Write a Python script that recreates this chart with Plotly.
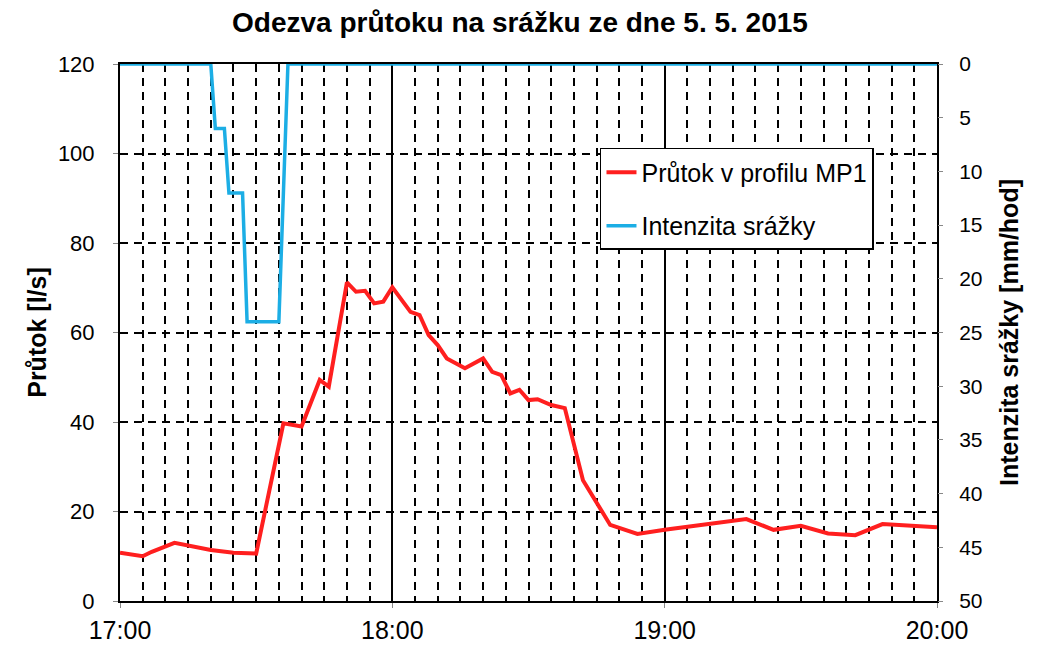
import plotly.graph_objects as go

DAY = "2015-05-05 "

# Průtok v profilu MP1 [l/s]
flow_time = ["17:00", "17:05", "17:07", "17:12", "17:20", "17:25", "17:30", "17:36", "17:40",
             "17:44", "17:46", "17:50", "17:52", "17:54", "17:56", "17:58", "18:00", "18:02",
             "18:04", "18:06", "18:08", "18:10", "18:12", "18:16", "18:18", "18:20", "18:22",
             "18:24", "18:26", "18:28", "18:30", "18:32", "18:35", "18:38", "18:42", "18:48",
             "18:54", "19:00", "19:18", "19:24", "19:30", "19:36", "19:42", "19:48", "20:00"]
flow_val = [10.8, 10.0, 11.0, 13.0, 11.4, 10.8, 10.6, 39.7, 39.0,
            49.4, 47.9, 71.2, 69.1, 69.3, 66.5, 66.9, 70.1, 67.3,
            64.6, 63.9, 59.4, 57.2, 54.2, 52.0, 53.1, 54.2, 51.2,
            50.5, 46.4, 47.2, 44.9, 45.1, 43.8, 43.1, 27.0, 17.0,
            15.0, 15.9, 18.3, 15.9, 16.8, 15.1, 14.7, 17.2, 16.5]

# Intenzita srážky [mm/hod]
rain_time = ["17:00", "17:20", "17:21", "17:23", "17:24", "17:27", "17:28", "17:35", "17:37", "20:00"]
rain_val = [0, 0, 6, 6, 12, 12, 24, 24, 0, 0]

title_text = "Odezva průtoku na srážku ze dne 5. 5. 2015"
flow_name = "Průtok v profilu MP1"
rain_name = "Intenzita srážky"
y_title = "Průtok [l/s]"
y2_title = "Intenzita srážky [mm/hod]"

FONT = "Liberation Sans, Arial, sans-serif"

fig = go.Figure()
fig.add_trace(go.Scatter(
    x=[DAY + t for t in flow_time], y=flow_val, name=flow_name, mode="lines",
    line=dict(color="#FF1F1F", width=4), legendgroup="a", yaxis="y"))
fig.add_trace(go.Scatter(
    x=[DAY + t for t in rain_time], y=rain_val, name=rain_name, mode="lines",
    line=dict(color="#1CAEE5", width=3.5), legendgroup="b", yaxis="y2"))

fig.update_layout(
    width=1050, height=646,
    margin=dict(l=112, r=121, t=56, b=53),
    paper_bgcolor="white", plot_bgcolor="white",
    font=dict(family=FONT, size=22, color="black"),
    title=dict(text="<b>" + title_text + "</b>", x=0.4876, xanchor="center", y=0.978, yanchor="middle",
               font=dict(family=FONT, size=28, color="black")),
    showlegend=True,
    legend=dict(x=0.5875, y=0.8436, xanchor="left", yanchor="top",
                bordercolor="black", borderwidth=1.5, bgcolor="white",
                font=dict(size=25), traceorder="grouped", tracegroupgap=18,
                itemwidth=30),
    xaxis=dict(
        type="date", automargin=False,
        range=[DAY + "17:00", DAY + "20:00"],
        tick0=DAY + "17:00", dtick=3600000, tickformat="%H:%M",
        showgrid=True, gridcolor="black", gridwidth=2,
        minor=dict(dtick=300000, tick0=DAY + "17:00", showgrid=True, gridcolor="black",
                   gridwidth=2, griddash="8px,6px"),
        showline=True, linecolor="black", linewidth=2, mirror=True,
        ticks="outside", ticklen=5, tickcolor="#888", tickwidth=1,
        ticklabelstandoff=1,
        zeroline=False, layer="below traces",
        tickfont=dict(size=25),
    ),
    yaxis=dict(
        automargin=False,
        range=[0, 120], dtick=20, tick0=0,
        showgrid=True, gridcolor="black", gridwidth=2, griddash="8px,6px",
        showline=True, linecolor="black", linewidth=2, mirror=True,
        ticks="outside", ticklen=5, tickcolor="#888", tickwidth=1,
        ticklabelstandoff=14,
        zeroline=False, layer="below traces",
        title=dict(text="<b>" + y_title + "</b>", font=dict(size=25), standoff=4),
        tickfont=dict(size=22),
    ),
    yaxis2=dict(
        automargin=False,
        range=[50, 0], dtick=5, tick0=0,
        overlaying="y", side="right", anchor="x",
        showgrid=False, zeroline=False,
        ticks="outside", ticklen=5, tickcolor="#888", tickwidth=1,
        ticklabelstandoff=12,
        layer="below traces",
        title=dict(text="<b>" + y2_title + "</b>", font=dict(size=25), standoff=18),
        tickfont=dict(size=21),
    ),
)

fig.write_html("out.html")
